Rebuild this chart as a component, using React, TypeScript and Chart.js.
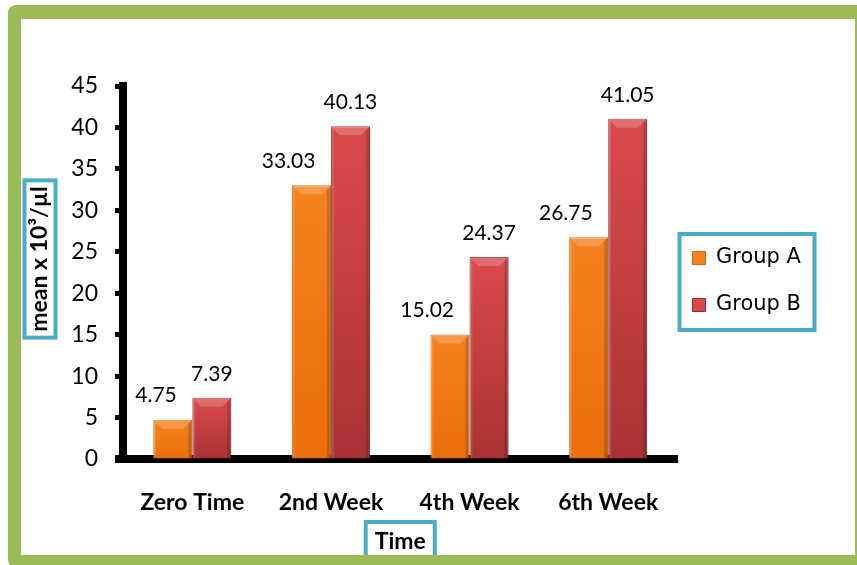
import React, { useEffect, useRef } from "react";
import { Chart, registerables } from "chart.js";

Chart.register(...registerables);

// ---------- data ----------
const categories = ["Zero Time", "2nd Week", "4th Week", "6th Week"];
const seriesNames = ["Group A", "Group B"];
const groupA = [4.75, 33.03, 15.02, 26.75];
const groupB = [7.39, 40.13, 24.37, 41.05];
const yMin = 0;
const yMax = 45;
const yStep = 5;
const yTitle = "mean x 10³/µl";
const xTitle = "Time";

// ---------- styles ----------
const FONT = "Lato, 'Open Sans', sans-serif";
const LEGEND_FONT = "'DejaVu Sans', Verdana, sans-serif";
const BLUE = "#4BACC6";
const GREEN = "#9BBB59";
const styles = [
  { solid: "#EE7614", top: "#F4821E", bottom: "#E96E0C", border: "#D4650B" },
  { solid: "#C83C3E", top: "#DB4A4B", bottom: "#A93234", border: "#962C2E" },
];

const gradientFill = (c: any) => {
  const s = styles[c.datasetIndex];
  if (c.type !== "data") return s.solid;
  const chart = c.chart;
  const ys = chart.scales && chart.scales.y;
  if (!ys || !chart.chartArea) return s.solid;
  const top = ys.getPixelForValue(c.raw);
  const base = ys.getPixelForValue(0);
  if (!isFinite(top) || !isFinite(base) || top === base) return s.solid;
  const g = chart.ctx.createLinearGradient(0, top, 0, base);
  g.addColorStop(0, s.top);
  g.addColorStop(1, s.bottom);
  return g;
};

const layoutTweak = {
  id: "layoutTweak",
  afterLayout(chart: any) {
    const lg = chart.legend;
    if (!lg) return;
    const dx = -11;
    const dy = 9;
    lg.left += dx;
    lg.right += dx;
    lg.top += dy;
    lg.bottom += dy;
  },
};

const barDecor = {
  id: "barDecor",
  afterDatasetsDraw(chart: any) {
    const ctx = chart.ctx;
    chart.data.datasets.forEach((ds: any, di: number) => {
      const meta = chart.getDatasetMeta(di);
      meta.data.forEach((bar: any, i: number) => {
        const p = bar.getProps(["x", "y", "base", "width"], true);
        const l = p.x - p.width / 2;
        const r = p.x + p.width / 2;
        const t = p.y;
        const b = p.base;
        const bv = Math.min(9, (b - t) / 2);
        ctx.save();
        // top bevel
        ctx.fillStyle = "rgba(255,255,255,0.20)";
        ctx.beginPath();
        ctx.moveTo(l, t);
        ctx.lineTo(r, t);
        ctx.lineTo(r - bv, t + bv);
        ctx.lineTo(l + bv, t + bv);
        ctx.closePath();
        ctx.fill();
        // right edge shade
        ctx.fillStyle = "rgba(0,0,0,0.16)";
        ctx.beginPath();
        ctx.moveTo(r, t);
        ctx.lineTo(r, b);
        ctx.lineTo(r - 4, b);
        ctx.lineTo(r - 4, t + 4);
        ctx.closePath();
        ctx.fill();
        // left edge highlight
        ctx.fillStyle = "rgba(255,255,255,0.10)";
        ctx.beginPath();
        ctx.moveTo(l, t);
        ctx.lineTo(l + 3, t + 3);
        ctx.lineTo(l + 3, b);
        ctx.lineTo(l, b);
        ctx.closePath();
        ctx.fill();
        ctx.restore();

        // value label
        const v = ds.data[i];
        ctx.save();
        ctx.font = `21px ${FONT}`;
        ctx.fillStyle = "#000";
        ctx.textBaseline = "middle";
        ctx.textAlign = di === 0 ? "right" : "center";
        ctx.fillText(v.toFixed(2), p.x + (di === 0 ? 4 : 0), t - 24);
        ctx.restore();
      });
    });
  },
};

const frameDecor = {
  id: "frameDecor",
  afterDraw(chart: any) {
    const ctx = chart.ctx;
    const area = chart.chartArea;
    ctx.save();
    // corner join of the two axis lines
    ctx.fillStyle = "#000";
    ctx.fillRect(area.left - 8, area.bottom - 4, 8, 8);

    // y title
    ctx.font = `bold 23px ${FONT}`;
    const yw = ctx.measureText(yTitle).width;
    const ycx = 40;
    const ycy = 259;
    ctx.strokeStyle = BLUE;
    ctx.lineWidth = 4;
    ctx.strokeRect(ycx - 15.5, ycy - yw / 2 - 6, 31, yw + 12);
    ctx.save();
    ctx.translate(ycx, ycy);
    ctx.rotate(-Math.PI / 2);
    ctx.textAlign = "center";
    ctx.textBaseline = "middle";
    ctx.fillStyle = "#000";
    ctx.fillText(yTitle, 0, 0);
    ctx.restore();

    // x title
    const xw = ctx.measureText(xTitle).width;
    const xcx = (area.left + area.right) / 2;
    const xcy = 542;
    ctx.strokeRect(xcx - xw / 2 - 9, 522, xw + 18, 60);
    ctx.textAlign = "center";
    ctx.textBaseline = "middle";
    ctx.fillStyle = "#000";
    ctx.fillText(xTitle, xcx, xcy);

    // legend frame
    const lg = chart.legend;
    if (lg && lg.legendHitBoxes && lg.legendHitBoxes.length) {
      const hb = lg.legendHitBoxes;
      const first = hb[0];
      const last = hb[hb.length - 1];
      const c0 = first.top + first.height / 2;
      const c1 = last.top + last.height / 2;
      const left = first.left - 13;
      ctx.strokeStyle = BLUE;
      ctx.lineWidth = 4;
      ctx.strokeRect(left, c0 - 24, 135, c1 - c0 + 49);
    }
    ctx.restore();
  },
};

export default function App() {
  const ref = useRef<HTMLCanvasElement | null>(null);

  useEffect(() => {
    if (!ref.current) return;
    const chart = new Chart(ref.current, {
      type: "bar",
      data: {
        labels: categories,
        datasets: [
          {
            label: seriesNames[0],
            data: groupA,
            backgroundColor: gradientFill,
            borderColor: styles[0].border,
            borderWidth: 1,
            categoryPercentage: 0.563,
            barPercentage: 1,
          },
          {
            label: seriesNames[1],
            data: groupB,
            backgroundColor: gradientFill,
            borderColor: styles[1].border,
            borderWidth: 1,
            categoryPercentage: 0.563,
            barPercentage: 1,
          },
        ],
      },
      options: {
        animation: false,
        responsive: false,
        maintainAspectRatio: false,
        devicePixelRatio: 1,
        layout: { padding: { top: 86, left: 0, right: 35, bottom: 46 } },
        plugins: {
          tooltip: { enabled: false },
          title: { display: false },
          legend: {
            display: true,
            position: "right",
            align: "center",
            fullSize: false,
            labels: {
              boxWidth: 13,
              boxHeight: 13,
              padding: 26,
              color: "#000",
              font: { family: LEGEND_FONT, size: 21 },
            },
          },
        },
        scales: {
          x: {
            grid: { display: false, drawTicks: false },
            border: { display: true, color: "#000", width: 8 },
            ticks: {
              color: "#000",
              padding: 30,
              font: { family: FONT, size: 23, weight: "bold" },
            },
            afterFit: (s: any) => {
              s.height = 60;
            },
          },
          y: {
            min: yMin,
            max: yMax,
            grid: {
              drawOnChartArea: false,
              drawTicks: true,
              tickLength: 8,
              tickWidth: 5,
              tickColor: "#000",
            },
            border: { display: true, color: "#000", width: 8 },
            ticks: {
              stepSize: yStep,
              color: "#000",
              padding: 17,
              font: { family: FONT, size: 23 },
            },
            afterFit: (s: any) => {
              s.width = 123;
            },
          },
        },
      },
      plugins: [layoutTweak, barDecor, frameDecor],
    });
    return () => chart.destroy();
  }, []);

  return (
    <div
      style={{
        position: "fixed",
        left: 0,
        top: 0,
        width: 857,
        height: 565,
        overflow: "hidden",
        background: "#fff",
      }}
    >
      <canvas
        ref={ref}
        width={857}
        height={565}
        style={{ position: "absolute", left: 0, top: 0, width: 857, height: 565 }}
      />
      <div
        style={{
          position: "absolute",
          left: 8,
          top: 5,
          width: 860,
          height: 563,
          boxSizing: "border-box",
          borderStyle: "solid",
          borderColor: GREEN,
          borderWidth: "14px 13px 13px 13px",
          borderRadius: 8,
          pointerEvents: "none",
        }}
      />
    </div>
  );
}
